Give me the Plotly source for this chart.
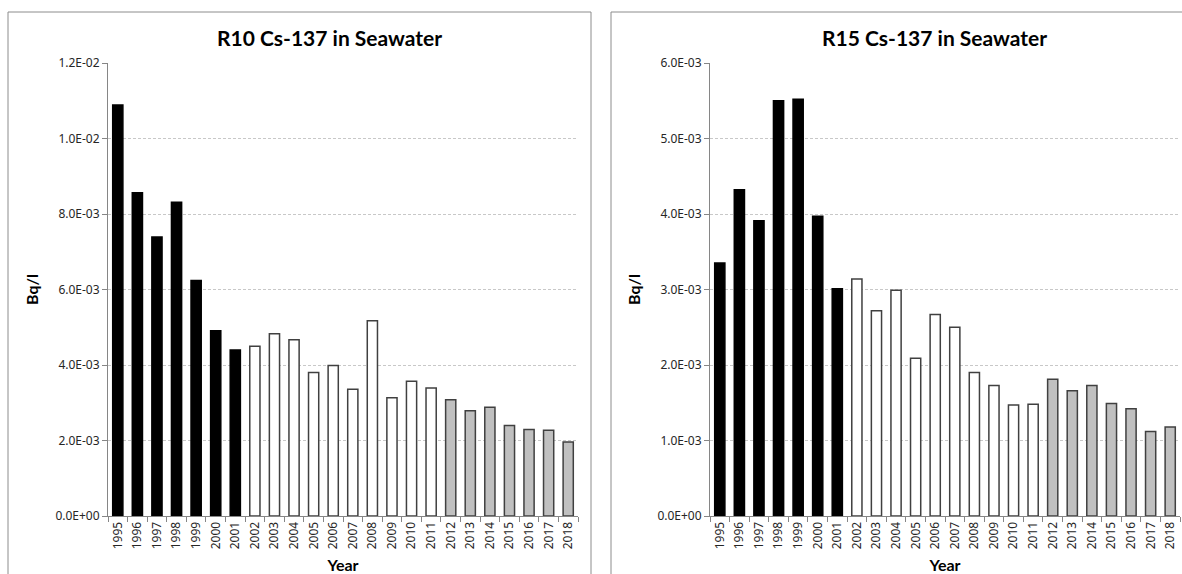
import plotly.graph_objects as go

years = [str(y) for y in range(1995, 2019)]
r10_values = [0.01089, 0.00856, 0.00739, 0.00831, 0.00624, 0.00491, 0.00440, 0.00450,
              0.00483, 0.00467, 0.00380, 0.00399, 0.00336, 0.00517, 0.00313, 0.00357,
              0.00339, 0.00308, 0.00279, 0.00288, 0.00240, 0.00229, 0.00227, 0.00196]
r15_values = [0.00335, 0.00432, 0.00391, 0.00550, 0.00552, 0.00397, 0.00301, 0.00314,
              0.00272, 0.00299, 0.00209, 0.00267, 0.00250, 0.00190, 0.00173, 0.00147,
              0.00148, 0.00181, 0.00166, 0.00173, 0.00149, 0.00142, 0.00112, 0.00118]
r10_tickvals = [0, 0.002, 0.004, 0.006, 0.008, 0.010, 0.012]
r10_ticktext = ["0.0E+00", "2.0E-03", "4.0E-03", "6.0E-03", "8.0E-03", "1.0E-02", "1.2E-02"]
r15_tickvals = [0, 0.001, 0.002, 0.003, 0.004, 0.005, 0.006]
r15_ticktext = ["0.0E+00", "1.0E-03", "2.0E-03", "3.0E-03", "4.0E-03", "5.0E-03", "6.0E-03"]
titles = ["R10 Cs-137 in Seawater", "R15 Cs-137 in Seawater"]

W, H = 1182, 574


def bar_style(year):
    y = int(year)
    if y <= 2001:
        return "#000000", "#000000"
    if y <= 2011:
        return "#ffffff", "#404040"
    return "#c0c0c0", "#404040"


fills = [bar_style(y)[0] for y in years]
lines = [bar_style(y)[1] for y in years]

fig = go.Figure()
fig.add_trace(go.Bar(x=years, y=r10_values, xaxis="x", yaxis="y",
                     marker=dict(color=fills, line=dict(color=lines, width=1.5)),
                     showlegend=False, hoverinfo="x+y"))
fig.add_trace(go.Bar(x=years, y=r15_values, xaxis="x2", yaxis="y2",
                     marker=dict(color=fills, line=dict(color=lines, width=1.5)),
                     showlegend=False, hoverinfo="x+y"))

ydom = [1 - 516 / H, 1 - 63 / H]
tickfont = dict(family="Noto Sans, DejaVu Sans, sans-serif", size=12, color="#262626")
titlefont = dict(family="Lato, Noto Sans, sans-serif", size=16, color="#000000")

common_x = dict(type="category", showline=True, linecolor="#868686", linewidth=1,
                ticks="outside", ticklen=5, tickcolor="#868686", tickson="boundaries",
                tickangle=-90, tickfont=tickfont, showgrid=False, automargin=False,
                title=dict(text="<b>Year</b>", font=titlefont, standoff=11))
common_y = dict(showline=True, linecolor="#868686", linewidth=1, ticks="outside",
                ticklen=5, tickcolor="#868686", tickfont=tickfont, automargin=False,
                showgrid=True, gridcolor="#c8c8c8", griddash="3px,2px", gridwidth=1,
                zeroline=False,
                title=dict(text="<b>Bq/l</b>", font=titlefont, standoff=12))

fig.update_layout(
    width=W, height=H, margin=dict(l=0, r=0, t=0, b=0, pad=0), autosize=False,
    paper_bgcolor="white", plot_bgcolor="white", bargap=0.48,
    xaxis=dict(domain=[108 / W, 578 / W], anchor="y", **common_x),
    yaxis=dict(domain=ydom, anchor="x", range=[0, 0.012],
               tickvals=r10_tickvals, ticktext=r10_ticktext, **common_y),
    xaxis2=dict(domain=[710 / W, 1180 / W], anchor="y2", **common_x),
    yaxis2=dict(domain=ydom, anchor="x2", range=[0, 0.006],
                tickvals=r15_tickvals, ticktext=r15_ticktext, **common_y),
    shapes=[
        dict(type="rect", xref="paper", yref="paper", x0=8 / W, x1=591 / W,
             y0=-0.05, y1=1 - 12 / H, line=dict(color="#8c8c8c", width=1)),
        dict(type="rect", xref="paper", yref="paper", x0=611 / W, x1=1.05,
             y0=-0.05, y1=1 - 12 / H, line=dict(color="#8c8c8c", width=1)),
    ],
    annotations=[
        dict(text="<b>%s</b>" % titles[0], xref="paper", yref="paper",
             x=329 / W, y=1 - 37 / H, showarrow=False, xanchor="center", yanchor="middle",
             font=dict(family="Lato, Noto Sans, sans-serif", size=21, color="#000000")),
        dict(text="<b>%s</b>" % titles[1], xref="paper", yref="paper",
             x=935 / W, y=1 - 37 / H, showarrow=False, xanchor="center", yanchor="middle",
             font=dict(family="Lato, Noto Sans, sans-serif", size=21, color="#000000")),
    ],
)

fig.write_html("out.html", config={"displayModeBar": False},
               post_script="document.body.style.margin='0';document.body.style.overflow='hidden';")
